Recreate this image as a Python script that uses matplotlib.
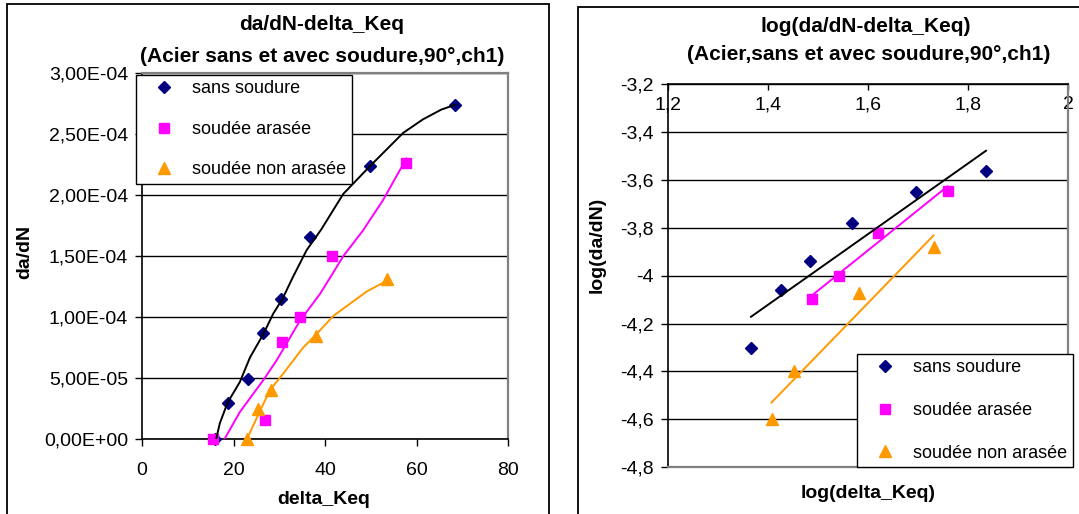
"""
Courbes de fissuration da/dN - delta_Keq
Acier sans et avec soudure, 90°, ch1
"""
import matplotlib
matplotlib.use('Agg')
import matplotlib.pyplot as plt
import matplotlib.patches as patches
from matplotlib.lines import Line2D
from matplotlib.ticker import FuncFormatter
import numpy as np

# 設定字型
plt.rcParams['font.family'] = ['Liberation Sans', 'DejaVu Sans']

W, H = 1079, 514

# ---- données : graphe linéaire ----
sans_x = [16.0, 18.7, 23.2, 26.5, 30.3, 36.7, 49.9, 68.5]
sans_y = [0, 3.0e-5, 4.95e-5, 8.7e-5, 1.15e-4, 1.66e-4, 2.24e-4, 2.74e-4]
arasee_x = [15.6, 26.8, 30.5, 34.6, 41.6, 57.6]
arasee_y = [0, 1.6e-5, 8.0e-5, 1.0e-4, 1.5e-4, 2.26e-4]
non_arasee_x = [22.9, 25.4, 28.2, 38.1, 53.6]
non_arasee_y = [0, 2.5e-5, 4.0e-5, 8.5e-5, 1.31e-4]

# courbes de tendance
sans_curve_x = [16.2, 17.0, 18.7, 21.4, 23.6, 26.5, 28.7, 30.7, 33.0, 36.0,
                39.2, 44.0, 49.9, 57.1, 61.4, 65.4, 68.5]
sans_curve_y = [0, 1.3e-5, 3.0e-5, 4.7e-5, 6.7e-5, 8.6e-5, 1.03e-4, 1.15e-4,
                1.33e-4, 1.55e-4, 1.72e-4, 2.01e-4, 2.24e-4, 2.51e-4, 2.62e-4,
                2.70e-4, 2.74e-4]
arasee_curve_x = [18.0, 21.4, 26.5, 29.4, 34.5, 38.9, 44.0, 48.3, 52.7, 57.8]
arasee_curve_y = [0, 2.24e-5, 4.84e-5, 6.45e-5, 9.7e-5, 1.19e-4, 1.5e-4,
                  1.71e-4, 1.96e-4, 2.3e-4]
non_arasee_curve_x = [22.9, 25.4, 27.9, 30.8, 35.2, 38.1, 41.8, 49.1, 53.6]
non_arasee_curve_y = [0, 2.0e-5, 4.0e-5, 5.35e-5, 7.5e-5, 8.6e-5, 1.01e-4,
                      1.21e-4, 1.30e-4]

# ---- données : graphe log ----
log_sans_x = [1.366, 1.425, 1.483, 1.568, 1.696, 1.836]
log_sans_y = [-4.303, -4.060, -3.939, -3.779, -3.650, -3.562]
log_arasee_x = [1.487, 1.541, 1.619, 1.759]
log_arasee_y = [-4.099, -4.000, -3.823, -3.645]
log_non_arasee_x = [1.407, 1.451, 1.581, 1.731]
log_non_arasee_y = [-4.600, -4.398, -4.072, -3.882]

labels = ['sans soudure', 'soudée arasée', 'soudée non arasée']
colors = ['#000080', '#FF00FF', '#FF9900']
line_colors = ['black', '#FF00FF', '#FF9900']
markers = ['D', 's', '^']
msizes = [6.5, 7.5, 9]

GRAY = '#808080'
FS = 14
TITLE_FS = 15


def fig_rect(x0, y0, x1, y1):
    """pixels (haut-gauche) -> coordonnées figure [l, b, w, h]"""
    return [x0 / W, 1 - y1 / H, (x1 - x0) / W, (y1 - y0) / H]


def style_spines(ax, black, gray):
    for s in black:
        ax.spines[s].set_color('black')
        ax.spines[s].set_linewidth(1.2)
    for s in gray:
        ax.spines[s].set_color(GRAY)
        ax.spines[s].set_linewidth(1.6)


def add_legend(ax, x0, y0, spacing):
    handles = [Line2D([], [], linestyle='none', marker=m, color=c, markersize=ms)
               for m, c, ms in zip(markers, colors, msizes)]
    leg = ax.legend(handles, labels, loc='upper left',
                    bbox_to_anchor=(x0 / W, 1 - y0 / H),
                    bbox_transform=ax.figure.transFigure,
                    fontsize=13, frameon=True, fancybox=False,
                    edgecolor='black', framealpha=1, borderpad=0.3,
                    borderaxespad=0, labelspacing=spacing,
                    handlelength=2.5, handletextpad=0.3)
    leg.get_frame().set_linewidth(1.0)
    return leg


fig = plt.figure(figsize=(W / 100, H / 100), dpi=100)

# cadres des deux graphiques
fig.add_artist(patches.Rectangle((7 / W, -0.02), 542 / W, 1 - 4 / H + 0.02,
                                 transform=fig.transFigure, fill=False,
                                 edgecolor='black', linewidth=1.3))
fig.add_artist(patches.Rectangle((578 / W, -0.02), 0.5, 1 - 7 / H + 0.02,
                                 transform=fig.transFigure, fill=False,
                                 edgecolor='black', linewidth=1.3))

# ================= graphe de gauche =================
ax1 = fig.add_axes(fig_rect(142, 73, 508, 439.3))
series = [(sans_x, sans_y, sans_curve_x, sans_curve_y),
          (arasee_x, arasee_y, arasee_curve_x, arasee_curve_y),
          (non_arasee_x, non_arasee_y, non_arasee_curve_x, non_arasee_curve_y)]
for (px, py, cx, cy), c, lc, m, ms in zip(series, colors, line_colors, markers, msizes):
    ax1.plot(px, py, linestyle='none', marker=m, color=c, markersize=ms,
             zorder=3, clip_on=False)
    ax1.plot(cx, cy, color=lc, linewidth=1.4, zorder=4)

ax1.set_xlim(0, 80)
ax1.set_ylim(0, 3e-4)
ax1.set_xticks(np.arange(0, 81, 20))
ax1.set_yticks(np.arange(0, 3.01e-4, 5e-5))
ax1.yaxis.set_major_formatter(FuncFormatter(lambda v, p: f"{v:.2E}".replace('.', ',')))
ax1.tick_params(labelsize=FS, direction='out', length=5, width=1)
ax1.tick_params(axis='y', pad=5)
ax1.tick_params(axis='x', pad=11)
ax1.yaxis.grid(True, color='black', linewidth=1.0)
ax1.set_axisbelow(True)
style_spines(ax1, ['left', 'bottom'], ['top', 'right'])

fig.text(322 / W, 1 - 25 / H, 'da/dN-delta_Keq', ha='center', va='center',
         fontsize=TITLE_FS, fontweight='bold')
fig.text(322 / W, 1 - 56 / H, '(Acier sans et avec soudure,90°,ch1)',
         ha='center', va='center', fontsize=TITLE_FS, fontweight='bold')
fig.text(25 / W, 1 - 252 / H, 'da/dN', rotation=90, ha='center', va='center',
         fontsize=14, fontweight='bold')
fig.text(324 / W, 1 - 499 / H, 'delta_Keq', ha='center', va='center',
         fontsize=14, fontweight='bold')
add_legend(ax1, 136, 75, 1.3)

# ================= graphe de droite =================
ax2 = fig.add_axes(fig_rect(668, 84, 1068, 467.3))
log_series = [(log_sans_x, log_sans_y), (log_arasee_x, log_arasee_y),
              (log_non_arasee_x, log_non_arasee_y)]
for (px, py), c, lc, m, ms in zip(log_series, colors, line_colors, markers, msizes):
    ax2.plot(px, py, linestyle='none', marker=m, color=c, markersize=ms, zorder=3)
    # droite de tendance linéaire
    a, b = np.polyfit(px, py, 1)
    xs = np.array([min(px), max(px)])
    ax2.plot(xs, a * xs + b, color=lc, linewidth=1.4, zorder=4)

ax2.set_xlim(1.2, 2.0)
ax2.set_ylim(-4.8, -3.2)
ax2.set_xticks(np.arange(1.2, 2.01, 0.2))
ax2.set_yticks(np.arange(-4.8, -3.19, 0.2))
fmt = FuncFormatter(lambda v, p: f"{round(v, 1):g}".replace('.', ','))
ax2.xaxis.set_major_formatter(fmt)
ax2.yaxis.set_major_formatter(fmt)
ax2.xaxis.set_ticks_position('top')
ax2.tick_params(axis='x', direction='in', length=4, width=1, labelsize=FS,
                pad=-21)
ax2.tick_params(axis='y', direction='out', length=5, width=1, labelsize=FS, pad=5)
ax2.yaxis.grid(True, color='black', linewidth=1.0)
ax2.set_axisbelow(True)
style_spines(ax2, ['left', 'top'], ['right', 'bottom'])

fig.text(866 / W, 1 - 26 / H, 'log(da/dN-delta_Keq)', ha='center', va='center',
         fontsize=TITLE_FS, fontweight='bold')
fig.text(869 / W, 1 - 55 / H, '(Acier,sans et avec soudure,90°,ch1)',
         ha='center', va='center', fontsize=TITLE_FS, fontweight='bold')
fig.text(597 / W, 1 - 245 / H, 'log(da/dN)', rotation=90, ha='center',
         va='center', fontsize=14, fontweight='bold')
fig.text(868 / W, 1 - 493 / H, 'log(delta_Keq)', ha='center', va='center',
         fontsize=14, fontweight='bold')
add_legend(ax2, 857, 354, 1.42)

plt.savefig('out.png', dpi=100)
